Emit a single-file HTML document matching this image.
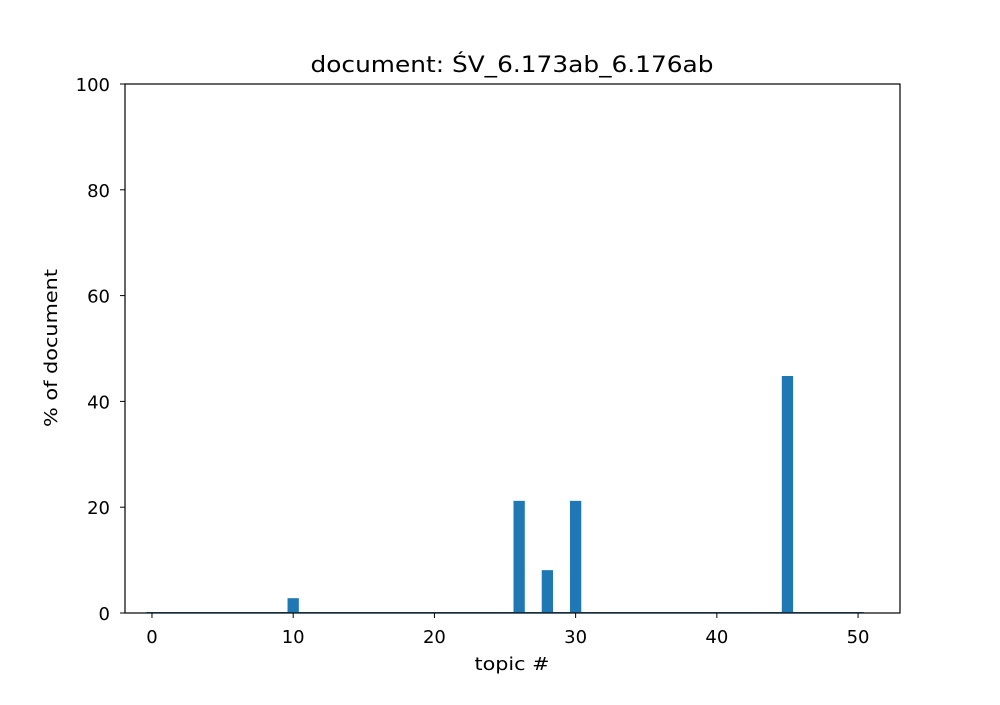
<!DOCTYPE html>
<html><head><meta charset="utf-8"><style>
body{margin:0;background:#fff}
svg text{font-family:"DejaVu Sans","Liberation Sans",sans-serif;fill:#000}
</style></head><body>
<svg id="chart" width="1000" height="700">
<rect width="1000" height="700" fill="#fff"/>
<text x="512" y="72" font-size="22" textLength="403" lengthAdjust="spacingAndGlyphs" text-anchor="middle">document: ŚV_6.173ab_6.176ab</text>
<g id="bars"></g><g id="xt"></g><g id="yt"></g>
<rect x="125" y="84" width="775" height="529" fill="none" stroke="#000" stroke-width="1.2"/>
<text x="512" y="670" font-size="18" textLength="75" lengthAdjust="spacingAndGlyphs" text-anchor="middle">topic #</text>
<text transform="translate(57,348) rotate(-90)" font-size="18" textLength="158" lengthAdjust="spacingAndGlyphs" text-anchor="middle">% of document</text>
</svg>
<script>
const topics=[10,26,28,30,45];
const values=[2.8,21.2,8.1,21.2,44.8];
const xTicks=[0,10,20,30,40,50];
const yTicks=[0,20,40,60,80,100];
const X0=125,X1=900,Y0=613,Y1=84,xmin=-1.91,xmax=52.97,ymin=0,ymax=100;
const xs=v=>X0+(v-xmin)/(xmax-xmin)*(X1-X0);
const ys=v=>Y0-(v-ymin)/(ymax-ymin)*(Y0-Y1);
const NS='http://www.w3.org/2000/svg';
function mk(t,a,p){const e=document.createElementNS(NS,t);for(const k in a)e.setAttribute(k,a[k]);p.appendChild(e);return e;}
const bars=document.getElementById('bars');
const base=mk('line',{x1:xs(-0.4),x2:xs(50.4),y1:Y0-0.5,y2:Y0-0.5,stroke:'#1f77b4','stroke-width':1},bars);


topics.forEach((t,i)=>{
 const r=mk('rect',{x:xs(t-0.4),y:ys(values[i]),width:xs(0.8)-xs(0),height:ys(0)-ys(values[i]),fill:'#1f77b4'},bars);
 
 
});
const xt=document.getElementById('xt');
xTicks.forEach(v=>{
 mk('line',{x1:xs(v),x2:xs(v),y1:Y0,y2:Y0+5,stroke:'#000'},xt);
 const e=mk('text',{x:xs(v),y:Y0+30,'font-size':18,'text-anchor':'middle'},xt);e.textContent=v;
 
 
});
const yt=document.getElementById('yt');
yTicks.forEach(v=>{
 mk('line',{x1:X0-5,x2:X0,y1:ys(v),y2:ys(v),stroke:'#000'},yt);
 const e=mk('text',{x:X0-15,y:ys(v)+7,'font-size':18,'text-anchor':'end'},yt);e.textContent=v;
 
 
});
</script>
</body></html>
